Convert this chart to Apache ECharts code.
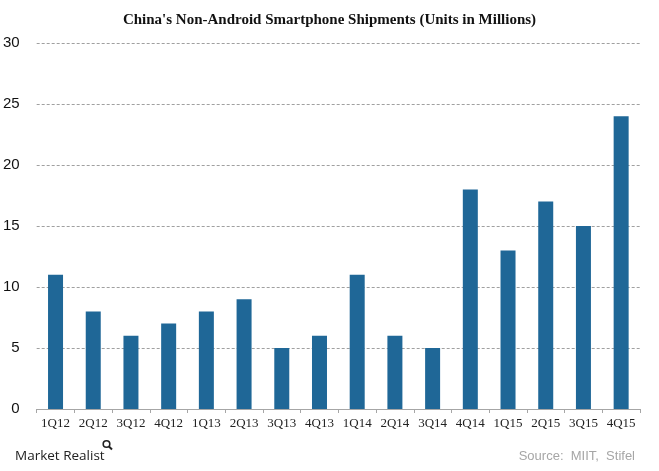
<!DOCTYPE html>
<html><head><meta charset="utf-8">
<script src="https://cdn.jsdelivr.net/npm/echarts@6/dist/echarts.min.js"></script>
<style>html,body{margin:0;padding:0;background:#fff}#c{width:659px;height:471px}</style>
</head><body><div id="c"></div>
<script>
const categories = ['1Q12','2Q12','3Q12','4Q12','1Q13','2Q13','3Q13','4Q13','1Q14','2Q14','3Q14','4Q14','1Q15','2Q15','3Q15','4Q15'];
const shipments = [11, 8, 6, 7, 8, 9, 5, 6, 11, 6, 5, 18, 13, 17, 15, 24];
const yTicks = [0, 5, 10, 15, 20, 25, 30];
const titleText = "China's Non-Android Smartphone Shipments (Units in Millions)";
const sourceText = 'Source:  MIIT,  Stifel';

const chart = echarts.init(document.getElementById('c'), null, {renderer:'canvas'});
chart.setOption({
  animation: false,
  title: {
    text: titleText, left: 'center', top: 8,
    textStyle: {fontFamily: 'Liberation Serif', fontWeight: 'bold', fontSize: 15, color: '#111'}
  },
  graphic: [
    {type:'text', left: 15, top: 449, style:{text:'Market Realist', font:'13.5px "Open Sans", sans-serif', fill:'#222'}},
    {type:'circle', shape:{cx:106.5, cy:444, r:3.3}, style:{fill:'none', stroke:'#222', lineWidth:1.6}},
    {type:'line', shape:{x1:109, y1:446.5, x2:112, y2:449.5}, style:{stroke:'#222', lineWidth:2}},
    {type:'text', right: 24, top: 450, style:{text: sourceText, font:'13px "Liberation Sans", Arial, sans-serif', fill:'#a6a6a6'}}
  ],
  grid: {left: 36, right: 19, top: 43, bottom: 62},
  xAxis: {
    type: 'category', data: categories,
    axisLine: {lineStyle: {color: '#a6a6a6'}},
    axisTick: {show: true, length: 4, lineStyle: {color: '#a6a6a6'}},
    axisLabel: {fontFamily: 'Liberation Serif', fontSize: 13, color: '#222', margin: 8}
  },
  yAxis: {
    type: 'value', min: yTicks[0], max: yTicks[yTicks.length-1], interval: 5,
    axisLine: {show: false}, axisTick: {show: false},
    axisLabel: {fontFamily: 'Liberation Sans', fontSize: 15, color: '#111', margin: 17},
    splitLine: {lineStyle: {type: [3, 2], color: '#a0a0a0'}}
  },
  series: [{
    type: 'bar', data: shipments, barWidth: 15,
    itemStyle: {color: '#1f6797'}
  }]
});
</script></body></html>
